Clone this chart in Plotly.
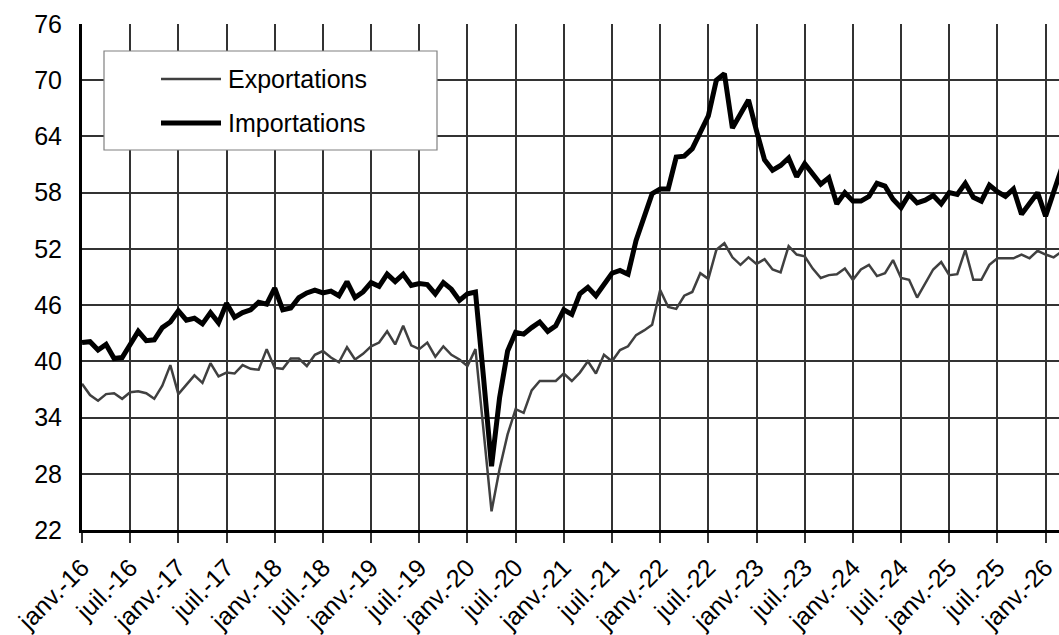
import plotly.graph_objects as go

# ── Data (Mds €, monthly, janv. 2016 → mars 2026) ───────────────────────────

MONTHS_FR = ["janv.", "févr.", "mars", "avr.", "mai", "juin",
             "juil.", "août", "sept.", "oct.", "nov.", "déc."]
years = list(range(16, 27))
months = [f"{m}-{y}" for y in years for m in MONTHS_FR][:123]

exportations = [
    37.6, 36.4, 35.8, 36.5, 36.6, 36.0, 36.7, 36.8, 36.6, 36.0, 37.4, 39.6,
    36.5, 37.5, 38.5, 37.7, 39.8, 38.4, 38.8, 38.7, 39.6, 39.2, 39.1, 41.3,
    39.3, 39.2, 40.3, 40.3, 39.5, 40.7, 41.1, 40.4, 39.9, 41.5, 40.2, 40.8,
    41.6, 42.0, 43.2, 41.8, 43.8, 41.7, 41.3, 42.0, 40.5, 41.6, 40.7, 40.2,
    39.5, 41.3, 33.0, 24.0, 28.5, 32.2, 34.9, 34.5, 36.9, 37.9, 37.9, 37.9,
    38.7, 37.9, 38.8, 40.0, 38.7, 40.7, 40.0, 41.2, 41.6, 42.8, 43.3, 43.9,
    47.6, 45.8, 45.6, 47.0, 47.4, 49.4, 48.8, 51.9, 52.6, 51.1, 50.3, 51.1,
    50.4, 50.9, 49.8, 49.5, 52.3, 51.4, 51.2, 49.9, 48.9, 49.2, 49.3, 49.9,
    48.7, 49.8, 50.3, 49.1, 49.4, 50.8, 48.9, 48.7, 46.8, 48.3, 49.8, 50.6,
    49.2, 49.3, 51.9, 48.7, 48.7, 50.3, 51.0, 51.0, 51.0, 51.4, 51.0, 51.8,
    51.4, 51.1, 51.7,
]

importations = [
    42.0, 42.1, 41.2, 41.8, 40.3, 40.4, 41.8, 43.2, 42.2, 42.3, 43.6, 44.2,
    45.4, 44.4, 44.6, 44.0, 45.2, 44.1, 46.2, 44.7, 45.2, 45.5, 46.3, 46.1,
    47.8, 45.5, 45.7, 46.8, 47.3, 47.6, 47.3, 47.5, 47.0, 48.5, 46.8, 47.4,
    48.4, 48.0, 49.3, 48.5, 49.3, 48.1, 48.3, 48.2, 47.2, 48.4, 47.7, 46.5,
    47.2, 47.4, 38.3, 28.8, 36.1, 41.1, 43.1, 42.9, 43.6, 44.2, 43.2, 43.8,
    45.5, 45.0, 47.2, 47.9, 47.0, 48.2, 49.4, 49.7, 49.3, 52.9, 55.4, 57.9,
    58.4, 58.4, 61.8, 61.9, 62.7, 64.6, 66.2, 70.0, 70.7, 64.9, 66.3, 67.9,
    64.6, 61.5, 60.4, 60.9, 61.7, 59.7, 61.1, 60.1, 58.9, 59.6, 56.8, 58.0,
    57.1, 57.1, 57.6, 59.0, 58.7, 57.3, 56.4, 57.8, 56.9, 57.2, 57.7, 56.8,
    58.0, 57.8, 59.0, 57.5, 57.1, 58.8, 58.1, 57.6, 58.4, 55.7, 56.8, 58.0,
    55.5, 58.2, 60.6,
]

tick_labels = months[::6]
y_ticks = list(range(22, 77, 6))

# ── Layout constants (pixels) ────────────────────────────────────────────────

W, H = 1059, 635
L, R, T, B = 82, 0, 24, 105
PW, PH = W - L - R, H - T - B
FONT = "Liberation Sans, Arial, sans-serif"
FS = 25


def px_x(p):
    # window pixel -> paper coordinate
    return (p - L) / PW


def px_y(p):
    return (H - B - p) / PH


fig = go.Figure()
fig.add_trace(go.Scatter(
    x=months, y=exportations, mode="lines", name="Exportations",
    line=dict(color="#404040", width=2.5),
))
fig.add_trace(go.Scatter(
    x=months, y=importations, mode="lines", name="Importations",
    line=dict(color="#000000", width=5),
))

# legend drawn by hand to match the boxed Excel-style legend
shapes = [
    dict(type="rect", xref="paper", yref="paper",
         x0=px_x(104), x1=px_x(437), y0=px_y(150), y1=px_y(51),
         fillcolor="white", line=dict(color="#808080", width=1.2), layer="above"),
    dict(type="line", xref="paper", yref="paper",
         x0=px_x(161), x1=px_x(221), y0=px_y(79), y1=px_y(79),
         line=dict(color="#404040", width=2.5), layer="above"),
    dict(type="line", xref="paper", yref="paper",
         x0=px_x(161), x1=px_x(221), y0=px_y(123), y1=px_y(123),
         line=dict(color="#000000", width=5), layer="above"),
]
annotations = [
    dict(text=name, xref="paper", yref="paper", x=px_x(226), y=px_y(yy),
         xanchor="left", yanchor="middle", showarrow=False,
         font=dict(family=FONT, size=FS, color="#000000"))
    for name, yy in (("Exportations", 79), ("Importations", 123))
]

fig.update_layout(
    width=W, height=H,
    margin=dict(l=L, r=R, t=T, b=B),
    paper_bgcolor="white",
    plot_bgcolor="white",
    font=dict(family=FONT, size=FS, color="#000000"),
    showlegend=False,
    shapes=shapes,
    annotations=annotations,
    xaxis=dict(
        type="category",
        range=[0, PW / 8.03],
        automargin=False,
        tickmode="array",
        tickvals=tick_labels,
        ticktext=tick_labels,
        tickangle=-45,
        ticks="outside", ticklen=10, tickwidth=1.5, tickcolor="#333333",
        showgrid=True, gridcolor="#333333", gridwidth=1.5,
        showline=True, linecolor="#000000", linewidth=3,
        tickfont=dict(size=FS),
        zeroline=False,
    ),
    yaxis=dict(
        range=[22, 76],
        automargin=False,
        tickmode="array",
        tickvals=y_ticks,
        ticks="",
        ticklabelstandoff=12,
        showgrid=True, gridcolor="#333333", gridwidth=1.5,
        showline=True, linecolor="#000000", linewidth=3,
        tickfont=dict(size=FS),
        zeroline=False,
    ),
)

# drop the default page margin so the figure fills the window exactly
fig.write_html(
    "out.html",
    config={"displayModeBar": False},
    post_script="document.body.style.margin='0';document.body.style.overflow='hidden';",
)
